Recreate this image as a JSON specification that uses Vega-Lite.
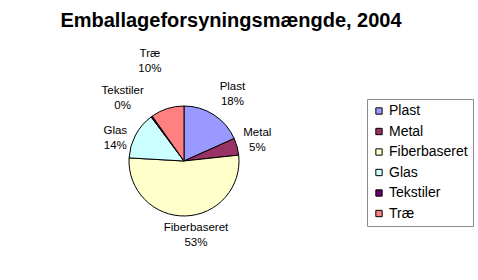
{
  "$schema": "https://vega.github.io/schema/vega-lite/v6.json",
  "width": 368,
  "height": 240,
  "autosize": "none",
  "padding": {"left": 0, "top": 41, "right": 110, "bottom": 0},
  "background": "white",
  "config": {
    "view": {"stroke": null},
    "font": "Liberation Sans",
    "text": {"font": "Liberation Sans", "fontSize": 11.5, "lineHeight": 15, "color": "black"},
    "legend": {
      "orient": "none",
      "legendX": 367,
      "legendY": 58,
      "symbolType": "square",
      "symbolSize": 40,
      "symbolStrokeColor": "black",
      "symbolStrokeWidth": 1,
      "labelFontSize": 14,
      "labelFont": "Liberation Sans",
      "labelColor": "black",
      "strokeColor": "#8c8c8c",
      "fillColor": "white",
      "padding": 5,
      "rowPadding": 6.5,
      "labelOffset": 3
    }
  },
  "title": {
    "text": "Emballageforsyningsmængde, 2004",
    "font": "Liberation Sans",
    "fontSize": 20,
    "fontWeight": "bold",
    "color": "black",
    "anchor": "middle",
    "dx": 47,
    "offset": 10
  },
  "data": {
    "values": [
      {"nr": 1, "kategori": "Plast", "andel": 18.3, "pct": "18%"},
      {"nr": 2, "kategori": "Metal", "andel": 5.0, "pct": "5%"},
      {"nr": 3, "kategori": "Fiberbaseret", "andel": 52.6, "pct": "53%"},
      {"nr": 4, "kategori": "Glas", "andel": 13.9, "pct": "14%"},
      {"nr": 5, "kategori": "Tekstiler", "andel": 0.4, "pct": "0%"},
      {"nr": 6, "kategori": "Træ", "andel": 9.8, "pct": "10%"}
    ]
  },
  "transform": [{"calculate": "[datum.kategori, datum.pct]", "as": "etiket"}],
  "encoding": {
    "theta": {"field": "andel", "type": "quantitative", "stack": true},
    "order": {"field": "nr", "type": "quantitative"}
  },
  "layer": [
    {
      "mark": {"type": "arc", "outerRadius": 55, "stroke": "black", "strokeWidth": 1},
      "encoding": {
        "color": {
          "field": "kategori",
          "type": "nominal",
          "sort": ["Plast", "Metal", "Fiberbaseret", "Glas", "Tekstiler", "Træ"],
          "scale": {
            "domain": ["Plast", "Metal", "Fiberbaseret", "Glas", "Tekstiler", "Træ"],
            "range": ["#9999FF", "#993366", "#FFFFCC", "#CCFFFF", "#660066", "#FF8080"]
          },
          "legend": {"title": null}
        }
      }
    },
    {
      "mark": {"type": "text", "radius": 78, "dx": 6, "dy": -9},
      "encoding": {
        "text": {"field": "etiket"},
        "opacity": {"condition": {"test": "datum.kategori === 'Plast'", "value": 1}, "value": 0}
      }
    },
    {
      "mark": {"type": "text", "radius": 78, "dx": -2, "dy": -8},
      "encoding": {
        "text": {"field": "etiket"},
        "opacity": {"condition": {"test": "datum.kategori === 'Metal'", "value": 1}, "value": 0}
      }
    },
    {
      "mark": {"type": "text", "radius": 78, "dx": 10, "dy": -11},
      "encoding": {
        "text": {"field": "etiket"},
        "opacity": {"condition": {"test": "datum.kategori === 'Fiberbaseret'", "value": 1}, "value": 0}
      }
    },
    {
      "mark": {"type": "text", "radius": 78, "dy": 7},
      "encoding": {
        "text": {"field": "etiket"},
        "opacity": {"condition": {"test": "datum.kategori === 'Glas'", "value": 1}, "value": 0}
      }
    },
    {
      "mark": {"type": "text", "radius": 89, "dx": -9, "dy": 2},
      "encoding": {
        "text": {"field": "etiket"},
        "opacity": {"condition": {"test": "datum.kategori === 'Tekstiler'", "value": 1}, "value": 0}
      }
    },
    {
      "mark": {"type": "text", "radius": 106, "dx": -2, "dy": -6},
      "encoding": {
        "text": {"field": "etiket"},
        "opacity": {"condition": {"test": "datum.kategori === 'Træ'", "value": 1}, "value": 0}
      }
    }
  ]
}
